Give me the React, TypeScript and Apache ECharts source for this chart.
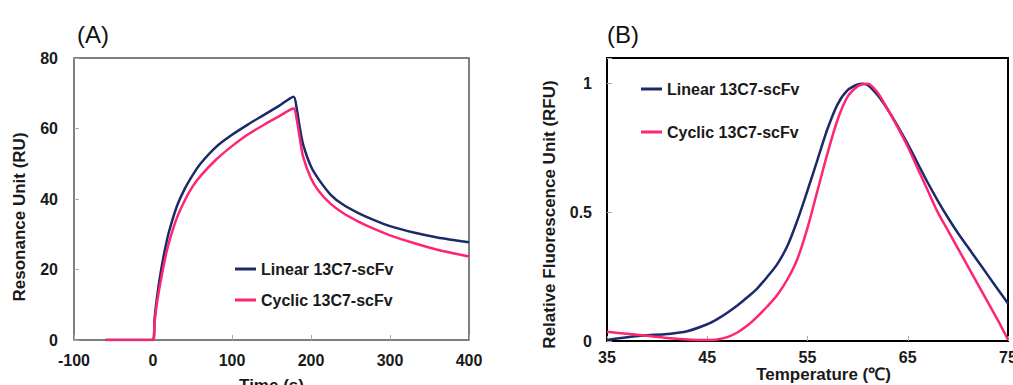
import React, { useEffect, useRef } from "react";
import * as echarts from "echarts";

// Panel A: SPR sensorgram
const timeS = [-60, 0, 2, 5, 10, 15, 20, 30, 40, 50, 60, 80, 100, 120, 140, 160, 178, 182, 186, 190, 200, 210, 225, 240, 260, 280, 300, 330, 360, 400];
const linearRU = [0, 0, 6, 12, 19.5, 25.5, 30.5, 37.8, 42.8, 46.7, 50, 54.8, 58.2, 61.1, 63.8, 66.5, 69, 65.5, 60, 55.5, 49.2, 45.5, 41.2, 38.5, 36, 34, 32.3, 30.5, 29.1, 27.7];
const cyclicRU = [0, 0, 5, 10.5, 17, 22.8, 27.5, 34.5, 39.5, 43.5, 46.5, 51.2, 55, 58.3, 61, 63.5, 65.7, 62.5, 57, 52, 45.8, 42.2, 38.6, 36.1, 33.6, 31.5, 29.7, 27.5, 25.6, 23.7];

// Panel B: thermal shift
const tempC = [35, 37, 39, 41, 43, 45, 46, 47, 48, 49, 50, 51, 52, 53, 54, 55, 56, 57, 58, 59, 60, 60.5, 61, 62, 63, 64, 65, 66, 67, 68, 69, 70, 71, 72, 73, 74, 75];
const linearRFU = [0.004, 0.015, 0.022, 0.027, 0.038, 0.065, 0.085, 0.11, 0.138, 0.17, 0.205, 0.25, 0.3, 0.37, 0.47, 0.585, 0.705, 0.825, 0.92, 0.975, 0.997, 1.0, 0.995, 0.955, 0.9, 0.835, 0.765, 0.69, 0.615, 0.545, 0.48, 0.42, 0.365, 0.31, 0.255, 0.2, 0.146];
const cyclicRFU = [0.036, 0.028, 0.02, 0.012, 0.006, 0.004, 0.006, 0.015, 0.033, 0.06, 0.095, 0.135, 0.18, 0.24, 0.32, 0.44, 0.585, 0.73, 0.86, 0.95, 0.99, 0.998, 1.0, 0.965, 0.9, 0.83, 0.755, 0.67, 0.585, 0.5, 0.43, 0.36, 0.29, 0.22, 0.15, 0.08, 0.005];

const seriesNames = ["Linear 13C7-scFv", "Cyclic 13C7-scFv"];
const tempMin = 35;
const rfuTickLabels = ["0", "0.5", "1"];

const NAVY = "#1b2a68";
const PINK = "#ff2574";
const FONT = "'Liberation Sans', Arial, sans-serif";

export default function App() {
  const ref = useRef<HTMLDivElement>(null);
  useEffect(() => {
    if (!ref.current) return;
    const chart = echarts.init(ref.current, undefined, { renderer: "svg" });
    const tickLabel = { color: "#1a1a1a", fontFamily: FONT, fontWeight: "bold" as const, fontSize: 16 };
    const nameStyle = { color: "#1a1a1a", fontFamily: FONT, fontWeight: "bold" as const, fontSize: 17 };
    const tick = { show: true, inside: true, length: 5, lineStyle: { color: "#aaa", width: 1 } };
    const noLine = { show: false, onZero: false };
    chart.setOption({
      animation: false,
      textStyle: { fontFamily: FONT },
      graphic: [
        { type: "text", x: 77, y: 34, style: { text: "(A)", fontSize: 24, fontFamily: FONT, fill: "#111", verticalAlign: "middle" } },
        { type: "text", x: 607, y: 34, style: { text: "(B)", fontSize: 24, fontFamily: FONT, fill: "#111", verticalAlign: "middle" } },
      ],
      legend: [
        {
          data: seriesNames, orient: "vertical", left: 235, top: 261, itemWidth: 21, itemHeight: 3, itemGap: 15, padding: 0,
          icon: "rect", textStyle: { ...tickLabel, lineHeight: 16 }, selectedMode: false,
        },
        {
          data: seriesNames, orient: "vertical", left: 641, top: 81, itemWidth: 21, itemHeight: 3, itemGap: 27, padding: 0,
          icon: "rect", textStyle: { ...tickLabel, lineHeight: 16 }, selectedMode: false,
        },
      ],
      grid: [
        { left: 74, top: 58, right: 544, bottom: 45, show: true, borderColor: "#555", borderWidth: 1.5, backgroundColor: "transparent", outerBoundsMode: "none", containLabel: false },
        { left: 607, top: 58, right: 5, bottom: 44, show: true, borderColor: "#000", borderWidth: 2, backgroundColor: "transparent", outerBoundsMode: "none", containLabel: false },
      ],
      xAxis: [
        {
          type: "value", gridIndex: 0, min: -100, max: 400, interval: 100,
          axisLine: noLine, axisTick: tick, splitLine: { show: false },
          axisLabel: { ...tickLabel, margin: 12 },
          name: "Time (s)", nameLocation: "middle", nameGap: 37, nameMoveOverlap: false, nameTextStyle: nameStyle,
        },
        {
          type: "value", gridIndex: 1, min: 0, max: 40, interval: 10,
          axisLine: noLine, axisTick: tick, splitLine: { show: false },
          axisLabel: { ...tickLabel, margin: 8, lineHeight: 16, formatter: (v: number) => String(v + tempMin) },
          name: "Temperature (℃)", nameLocation: "middle", nameGap: 25, nameMoveOverlap: false,
          nameTextStyle: { ...nameStyle, lineHeight: 17, padding: [0, 0, 0, 32] },
        },
      ],
      yAxis: [
        {
          type: "value", gridIndex: 0, min: 0, max: 80, interval: 20,
          axisLine: noLine, axisTick: tick, splitLine: { show: false },
          axisLabel: { ...tickLabel, margin: 16 },
          name: "Resonance Unit (RU)", nameLocation: "middle", nameGap: 46, nameMoveOverlap: false,
          nameTextStyle: { ...nameStyle, padding: [0, 36, 0, 0] },
        },
        {
          type: "value", gridIndex: 1, min: 0, max: 1.1, interval: 0.5,
          axisLine: noLine, axisTick: tick, splitLine: { show: false },
          axisLabel: {
            ...tickLabel, margin: 15,
            formatter: (v: number) => {
              const i = Math.round(v / 0.5);
              return Math.abs(v - i * 0.5) < 1e-6 && i < rfuTickLabels.length ? rfuTickLabels[i] : "";
            },
          },
          name: "Relative Fluorescence Unit (RFU)", nameLocation: "middle", nameGap: 49, nameMoveOverlap: false,
          nameTextStyle: { ...nameStyle, padding: [0, 30, 0, 0] },
        },
      ],
      series: [
        {
          name: seriesNames[0], type: "line", xAxisIndex: 0, yAxisIndex: 0, symbol: "none", smooth: 0.25,
          lineStyle: { color: NAVY, width: 2.5 }, itemStyle: { color: NAVY },
          data: timeS.map((t, i) => [t, linearRU[i]]), z: 2,
        },
        {
          name: seriesNames[1], type: "line", xAxisIndex: 0, yAxisIndex: 0, symbol: "none", smooth: 0.25,
          lineStyle: { color: PINK, width: 2.5 }, itemStyle: { color: PINK },
          data: timeS.map((t, i) => [t, cyclicRU[i]]), z: 3,
        },
        {
          name: seriesNames[0], type: "line", xAxisIndex: 1, yAxisIndex: 1, symbol: "none", smooth: 0.3,
          lineStyle: { color: NAVY, width: 2.5 }, itemStyle: { color: NAVY },
          data: tempC.map((t, i) => [t - tempMin, linearRFU[i]]), z: 2,
        },
        {
          name: seriesNames[1], type: "line", xAxisIndex: 1, yAxisIndex: 1, symbol: "none", smooth: 0.3,
          lineStyle: { color: PINK, width: 2.5 }, itemStyle: { color: PINK },
          data: tempC.map((t, i) => [t - tempMin, cyclicRFU[i]]), z: 3,
        },
      ],
    });
    return () => chart.dispose();
  }, []);
  return <div ref={ref} style={{ position: "absolute", left: 0, top: 0, width: 1013, height: 385, background: "#fff" }} />;
}
